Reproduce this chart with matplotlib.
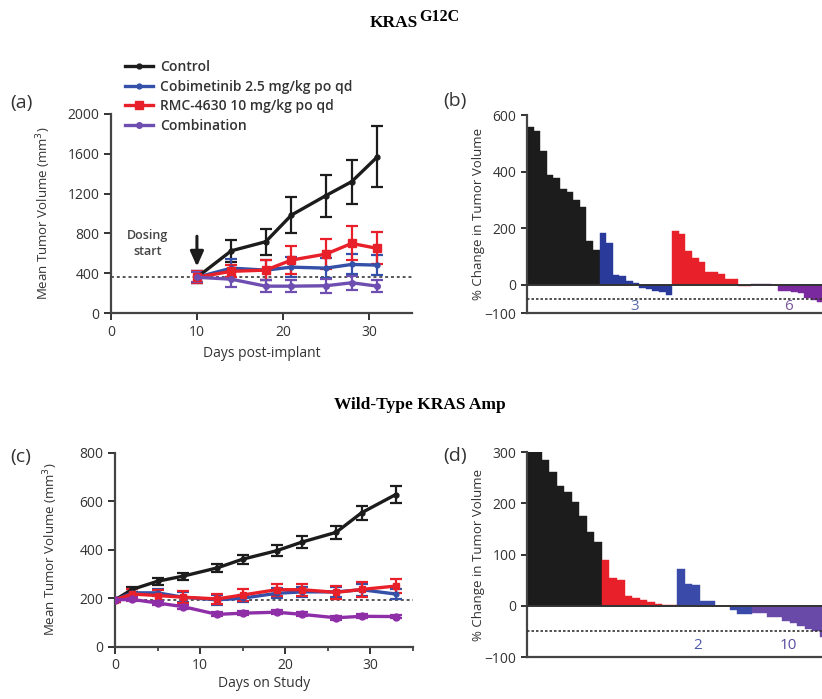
import numpy as np
import matplotlib
matplotlib.use("Agg")
import matplotlib.pyplot as plt
from matplotlib.ticker import MultipleLocator
from matplotlib.lines import Line2D

# ---- datos: panel (a) KRAS G12C, volumen medio ----
dias_a = [10, 14, 18, 21, 25, 28, 31]
control_a = [360, 626, 717, 985, 1180, 1320, 1570]
control_a_err = [60, 110, 130, 180, 210, 220, 305]
cobi_a = [360, 452, 432, 462, 452, 489, 482]
cobi_a_err = [60, 90, 100, 100, 100, 100, 100]
rmc_a = [360, 420, 432, 533, 593, 700, 650]
rmc_a_err = [60, 60, 100, 140, 150, 170, 160]
combo_a = [360, 341, 271, 271, 275, 305, 271]
combo_a_err = [50, 80, 60, 60, 70, 70, 60]
base_a = 365

# ---- datos: panel (b) waterfall KRAS G12C ----
wf_b_control = [560, 545, 475, 390, 380, 340, 330, 300, 275, 155, 125]
wf_b_cobi = [185, 150, 35, 30, 15, 5, -10, -15, -20, -25, -35]
wf_b_rmc = [190, 180, 120, 95, 80, 45, 45, 40, 20, 20, -5, -5]
wf_b_combo = [3, 3, 2, 0, -20, -20, -25, -30, -45, -55, -60, -60]
cuentas_b = ["3", "6"]

# ---- datos: panel (c) Wild-Type KRAS Amp ----
dias_c = [0, 2, 5, 8, 12, 15, 19, 22, 26, 29, 33]
control_c = [193, 236, 270, 291, 325, 361, 396, 432, 472, 553, 628]
control_c_err = [8, 12, 15, 15, 15, 18, 22, 25, 28, 28, 35]
cobi_c = [193, 222, 222, 204, 193, 200, 220, 226, 226, 235, 217]
cobi_c_err = [8, 15, 15, 20, 20, 15, 20, 20, 20, 25, 20]
rmc_c = [193, 217, 211, 204, 197, 213, 235, 235, 224, 236, 250]
rmc_c_err = [8, 20, 22, 25, 22, 25, 25, 25, 28, 30, 30]
combo_c = [193, 195, 180, 165, 133, 138, 142, 133, 119, 125, 124]
combo_c_err = [6, 8, 8, 8, 8, 8, 8, 8, 8, 8, 8]
base_c = 193

# ---- datos: panel (d) waterfall Wild-Type KRAS Amp ----
wf_d_control = [300, 300, 285, 262, 235, 222, 202, 175, 145, 125]
wf_d_rmc = [90, 55, 50, 20, 15, 12, 7, 3, 2, 1]
wf_d_cobi = [72, 42, 40, 10, 10, 0, 0, -8, -15, -15]
wf_d_combo = [-13, -13, -21, -21, -29, -33, -39, -45, -50, -60]
cuentas_d = ["2", "10"]

etiquetas = ["Control", "Cobimetinib 2.5 mg/kg po qd",
             "RMC-4630 10 mg/kg po qd", "Combination"]

NEGRO = "#1c1c1c"
AZUL = "#3450a8"
ROJO = "#e8202a"
MORADO_A = "#6e4eb0"
MORADO_C = "#8e2fa8"
GRIS = "#333333"

plt.rcParams["font.family"] = ["Open Sans", "DejaVu Sans"]
plt.rcParams["axes.linewidth"] = 1.6
plt.rcParams["xtick.major.width"] = 1.4
plt.rcParams["ytick.major.width"] = 1.4
plt.rcParams["axes.edgecolor"] = "#444444"

fig = plt.figure(figsize=(8.22, 6.99), dpi=100)


def estilo_lineas(ax):
    for s in ["top", "right"]:
        ax.spines[s].set_visible(False)
    ax.tick_params(labelsize=10, colors=GRIS, length=5)


def dibujar_series(ax, dias, series, base):
    ax.axhline(base, color="#555555", ls=(0, (1.5, 1.5)), lw=1.4, zorder=1)
    for (y, err, color, marker, ms), lab in zip(series, etiquetas):
        ax.errorbar(dias, y, yerr=err, color=color, marker=marker, ms=ms,
                    lw=2.4, elinewidth=1.6, capsize=4, capthick=1.6,
                    label=lab, zorder=3)


# ---- (a) ----
ax_a = fig.add_axes([0.135, 0.552, 0.366, 0.285])
estilos_a = [(NEGRO, "o", 3.5), (AZUL, "o", 3.5), (ROJO, "s", 6), (MORADO_A, "o", 4)]
dibujar_series(ax_a, dias_a, [
    (control_a, control_a_err) + estilos_a[0],
    (cobi_a, cobi_a_err) + estilos_a[1],
    (rmc_a, rmc_a_err) + estilos_a[2],
    (combo_a, combo_a_err) + estilos_a[3],
], base_a)
ax_a.set_xlim(0, 35)
ax_a.set_ylim(0, 2000)
ax_a.xaxis.set_major_locator(MultipleLocator(10))
ax_a.yaxis.set_major_locator(MultipleLocator(400))
estilo_lineas(ax_a)
ax_a.set_xlabel("Days post-implant", fontsize=10, color=GRIS)
ax_a.set_ylabel("Mean Tumor Volume (mm$^3$)", fontsize=9.5, color=GRIS, labelpad=10)
ax_a.annotate("", xy=(10, 440), xytext=(10, 800),
              arrowprops=dict(arrowstyle="-|>,head_width=0.4,head_length=0.9",
                              color=NEGRO, lw=2.2))
ax_a.text(4.3, 700, "Dosing\nstart", ha="center", va="center",
          fontsize=9, color="#444444", linespacing=1.25, fontweight="semibold")
proxies = [Line2D([], [], color=c, marker=m, ms=ms, lw=2.4) for c, m, ms in estilos_a]
leg = ax_a.legend(proxies, etiquetas, loc="upper left",
                  bbox_to_anchor=(125 / 822, 1 - 60 / 699),
                  bbox_transform=fig.transFigure, frameon=False, fontsize=10,
                  handlelength=2.0, labelspacing=0.4, borderaxespad=0,
                  borderpad=0, handletextpad=0.5)
for t in leg.get_texts():
    t.set_color(GRIS)
    t.set_fontweight("semibold")

# ---- (c) ----
ax_c = fig.add_axes([0.140, 0.075, 0.362, 0.277])
dibujar_series(ax_c, dias_c, [
    (control_c, control_c_err, NEGRO, "o", 3.5),
    (cobi_c, cobi_c_err, AZUL, "o", 3.5),
    (rmc_c, rmc_c_err, ROJO, "s", 4.5),
    (combo_c, combo_c_err, MORADO_C, "o", 5),
], base_c)
ax_c.set_xlim(0, 35)
ax_c.set_ylim(0, 800)
ax_c.xaxis.set_major_locator(MultipleLocator(10))
ax_c.xaxis.set_minor_locator(MultipleLocator(5))
ax_c.yaxis.set_major_locator(MultipleLocator(200))
estilo_lineas(ax_c)
ax_c.tick_params(which="minor", length=3, width=1.2, colors=GRIS)
ax_c.set_xlabel("Days on Study", fontsize=10, color=GRIS, labelpad=2)
ax_c.set_ylabel("Mean Tumor Volume (mm$^3$)", fontsize=9.5, color=GRIS, labelpad=14)


# ---- waterfalls ----
def waterfall(ax, grupos, colores, ymin, ymax, paso, xmax, cuentas, pos_cuentas,
              colores_cuentas):
    x0 = 0
    for vals, col in zip(grupos, colores):
        xs = np.arange(x0, x0 + len(vals))
        ax.bar(xs, vals, width=1.0, color=col, edgecolor=col, lw=0.3, zorder=2)
        x0 += len(vals)
    ax.axhline(0, color="#333333", lw=1.4, zorder=3)
    ax.axhline(-50, color="#333333", ls=(0, (1.5, 1.2)), lw=1.2, zorder=3)
    ax.set_xlim(-0.5, xmax)
    ax.set_ylim(ymin, ymax)
    ax.set_yticks([ymin] + list(np.arange(0, ymax + 1, paso)))
    ax.set_xticks([])
    for s in ["top", "right"]:
        ax.spines[s].set_visible(False)
    ax.tick_params(labelsize=10, colors=GRIS, length=4)
    ax.set_ylabel("% Change in Tumor Volume", fontsize=9.5, color=GRIS, labelpad=0)
    for txt, xp, c in zip(cuentas, pos_cuentas, colores_cuentas):
        ax.text(xp, -78, txt, ha="center", va="center", fontsize=11, color=c)


ax_b = fig.add_axes([0.641, 0.552, 0.359, 0.283])
waterfall(ax_b, [wf_b_control, wf_b_cobi, wf_b_rmc, wf_b_combo],
          [NEGRO, "#2a3a9a", ROJO, "#7a2a9e"], -100, 600, 200, 44.2,
          cuentas_b, [15.8, 39.2], ["#5a6aaa", "#7a5a9a"])

ax_d = fig.add_axes([0.641, 0.060, 0.359, 0.293])
waterfall(ax_d, [wf_d_control, wf_d_rmc, wf_d_cobi, wf_d_combo],
          [NEGRO, ROJO, "#3a4aa8", "#6a4aa8"], -100, 300, 100, 38.8,
          cuentas_d, [22.3, 34.3], ["#4a5aa8", "#5a4aa0"])

# ---- titulos y letras ----
fig.text(370 / 822, 1 - 27 / 699, "KRAS", fontsize=12.5, fontweight="bold",
         family="Liberation Serif", va="baseline", ha="left")
fig.text(419 / 822, 1 - 21 / 699, "G12C", fontsize=11.5, fontweight="bold",
         family="Liberation Serif", va="baseline", ha="left")
fig.text(420 / 822, 1 - 405 / 699, "Wild-Type KRAS Amp", fontsize=12.5,
         fontweight="bold", family="Liberation Serif", ha="center", va="center")

for lab, x, y in [("(a)", 10, 103), ("(b)", 443, 101),
                  ("(c)", 10, 457), ("(d)", 443, 456)]:
    fig.text(x / 822, 1 - y / 699, lab, fontsize=14, color=GRIS,
             ha="left", va="center")

fig.savefig("out.png", dpi=100)
